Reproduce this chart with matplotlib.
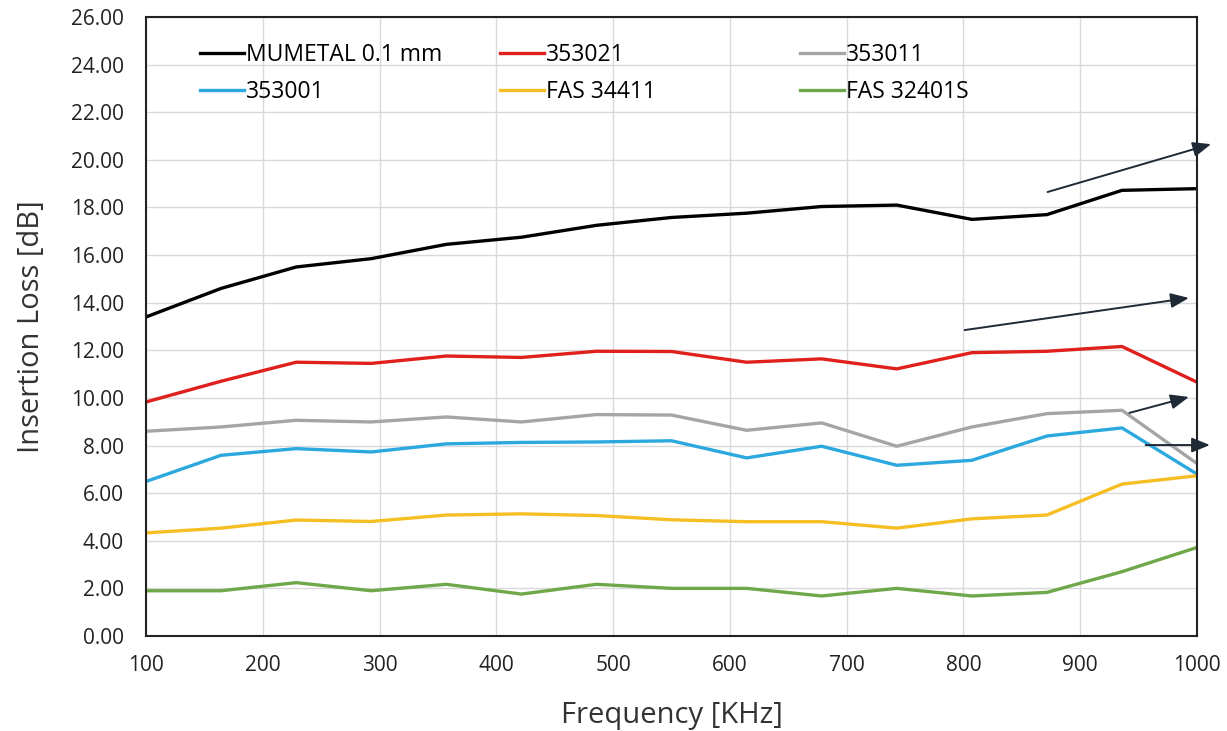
import numpy as np
import matplotlib
matplotlib.use("Agg")
import matplotlib.pyplot as plt

# frequency points (KHz), 15 evenly spaced samples
freq = np.linspace(100, 1000, 15)

mumetal = [13.4, 14.6, 15.5, 15.85, 16.45, 16.75, 17.25, 17.58, 17.76, 18.04, 18.1, 17.5, 17.7, 18.72, 18.79]
s353021 = [9.83, 10.7, 11.5, 11.45, 11.76, 11.7, 11.96, 11.95, 11.5, 11.64, 11.22, 11.9, 11.96, 12.16, 10.66]
s353011 = [8.6, 8.78, 9.06, 8.99, 9.2, 8.99, 9.3, 9.28, 8.64, 8.95, 7.97, 8.78, 9.34, 9.48, 7.24]
s353001 = [6.49, 7.59, 7.87, 7.73, 8.07, 8.13, 8.15, 8.2, 7.48, 7.97, 7.17, 7.38, 8.4, 8.74, 6.8]
fas34411 = [4.33, 4.53, 4.87, 4.81, 5.08, 5.13, 5.06, 4.88, 4.8, 4.8, 4.53, 4.92, 5.08, 6.38, 6.73]
fas32401s = [1.9, 1.9, 2.24, 1.9, 2.17, 1.76, 2.17, 2.0, 2.0, 1.68, 2.0, 1.68, 1.83, 2.7, 3.72]

names = ["MUMETAL 0.1 mm", "353021", "353011", "353001", "FAS 34411", "FAS 32401S"]
colors = ["#000000", "#E0201C", "#A5A5A5", "#2BA9DF", "#F5BE22", "#6EA84A"]
series = [mumetal, s353021, s353011, s353001, fas34411, fas32401s]

plt.rcParams['font.family'] = ['Open Sans', 'DejaVu Sans']

fig = plt.figure(figsize=(12.27, 7.31), dpi=100)
ax = fig.add_axes([0.119, 0.13, 0.8566, 0.8467])

lines = []
for vals, name, c in zip(series, names, colors):
    ln, = ax.plot(freq, vals, color=c, lw=2.4, label=name)
    lines.append(ln)

ax.set_xlim(100, 1000)
ax.set_ylim(0, 26)
ax.set_xticks(np.arange(100, 1001, 100))
ax.set_yticks(np.arange(0, 26.1, 2))
ax.set_yticklabels([f"{v:.2f}" for v in np.arange(0, 26.1, 2)])
ax.grid(True, color="#d9d9d9", lw=1)
ax.set_axisbelow(True)
ax.tick_params(length=0, labelsize=15, colors="#222222")
ax.tick_params(axis="y", pad=16)
ax.tick_params(axis="x", pad=14)
for s in ax.spines.values():
    s.set_color("#222222")
    s.set_linewidth(1.5)

ax.set_xlabel("Frequency [KHz]", fontsize=21, color="#333333", labelpad=18)
ax.set_ylabel("Insertion Loss [dB]", fontsize=21, color="#333333", labelpad=18)

# legend: three columns placed separately (Excel style spacing)
col_x = [0.0514, 0.3368, 0.6223]
for k in range(3):
    lg = ax.legend([lines[k], lines[k + 3]], [names[k], names[k + 3]],
                   frameon=False, loc="upper left", bbox_to_anchor=(col_x[k], 0.958),
                   borderpad=0, borderaxespad=0, fontsize=16.5,
                   handlelength=1.9, handletextpad=0.1, labelspacing=0.55)
    if k < 2:
        ax.add_artist(lg)

# annotation arrows
arrows = [((872, 18.65), (1012, 20.66)),
          ((801, 12.85), (993, 14.2)),
          ((942, 9.37), (993, 10.04)),
          ((956, 8.02), (1011, 8.02))]
for start, tip in arrows:
    ax.annotate("", xy=tip, xytext=start, annotation_clip=False,
                arrowprops=dict(arrowstyle="-|>,head_length=1.1,head_width=0.45",
                                color="#1F2A36", lw=1.4, shrinkA=0, shrinkB=0))

fig.savefig("out.png", dpi=100)
